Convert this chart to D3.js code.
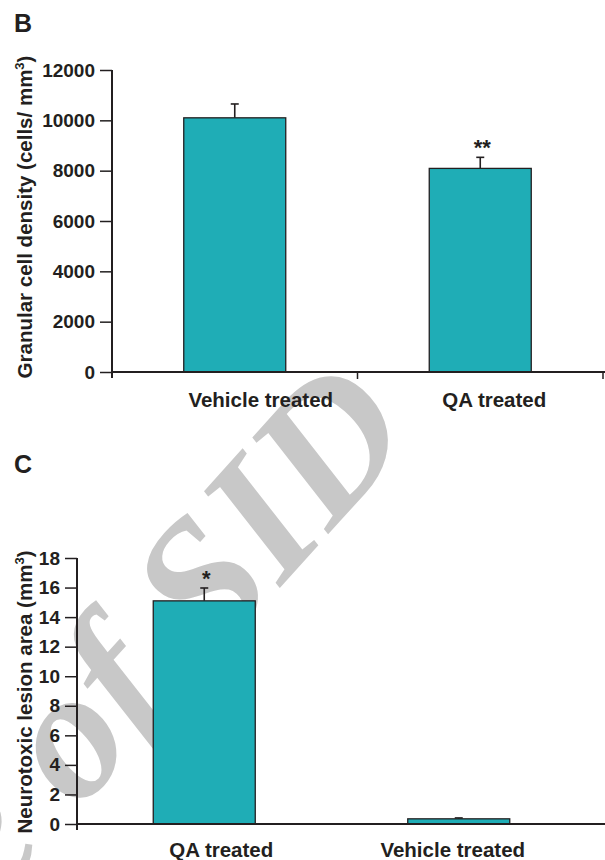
<!DOCTYPE html>
<html>
<head>
<meta charset="utf-8">
<script src="https://cdn.jsdelivr.net/npm/d3@7"></script>
<style>
  body { margin: 0; background: #fff; }
  svg { display: block; }
  text { font-family: "Liberation Sans", Arial, sans-serif; font-weight: bold; fill: #231f20; }
  text.wm { font-family: "Liberation Serif", "DejaVu Serif", serif; font-style: italic; font-weight: bold; font-size: 185px; fill: #c8c8c8; }
</style>
</head>
<body>
<div id="chart"></div>
<script>
// Panel B: granular cell density
const catsB = ["Vehicle treated", "QA treated"];
const valsB = [10100, 8090];
const errsB = [550, 440];
const sigB = ["", "**"];
const ticksB = [0, 2000, 4000, 6000, 8000, 10000, 12000];

// Panel C: neurotoxic lesion area
const catsC = ["QA treated", "Vehicle treated"];
const valsC = [15.1, 0.35];
const errsC = [0.87, 0.06];
const sigC = ["*", ""];
const ticksC = [0, 2, 4, 6, 8, 10, 12, 14, 16, 18];

const W = 605, H = 860;
const ink = "#231f20";
const barFill = "#1fadb6";

const svg = d3.select("#chart").append("svg")
    .attr("width", W)
    .attr("height", H);

// watermark sits behind everything
const wm = svg.append("g")
    .attr("transform", "translate(78,812) rotate(-48)");
wm.append("text")
    .attr("class", "wm")
    .attr("text-anchor", "end")
    .attr("dx", -45)
    .text("Archive");
wm.append("text")
    .attr("class", "wm")
    .attr("text-anchor", "start")
    .text("of SID");

function drawPanel(cfg) {
    const g = svg.append("g");

    const x = d3.scaleBand()
        .domain(cfg.cats)
        .range([cfg.x0, cfg.bandEnd]);
    const y = d3.scaleLinear()
        .domain([0, cfg.yMax])
        .range([cfg.y0, cfg.yTop]);

    const bw = x.bandwidth();
    const barW = 102;
    const cx = d => x(d.c) + bw / 2;

    // panel letter
    g.append("text")
        .attr("x", 14)
        .attr("y", cfg.letterY)
        .style("font-size", "25px")
        .text(cfg.letter);

    // y title
    g.append("text")
        .attr("transform", `translate(${cfg.titleX},${cfg.titleY}) rotate(-90)`)
        .attr("text-anchor", "middle")
        .style("font-size", "20.5px")
        .html(cfg.title);

    // bars with error bars
    const bars = g.selectAll(".bar")
        .data(cfg.cats.map((c, i) => ({ c, v: cfg.vals[i], e: cfg.errs[i], s: cfg.sig[i] })))
        .join("g")
        .attr("class", "bar");

    bars.append("line")
        .attr("x1", cx).attr("x2", cx)
        .attr("y1", d => y(d.v))
        .attr("y2", d => y(d.v + d.e))
        .attr("stroke", ink)
        .attr("stroke-width", 1.6);

    bars.append("line")
        .attr("x1", d => cx(d) - 4)
        .attr("x2", d => cx(d) + 4)
        .attr("y1", d => y(d.v + d.e))
        .attr("y2", d => y(d.v + d.e))
        .attr("stroke", ink)
        .attr("stroke-width", 1.6);

    bars.append("rect")
        .attr("x", d => cx(d) - barW / 2)
        .attr("width", barW)
        .attr("y", d => y(d.v))
        .attr("height", d => y(0) - y(d.v))
        .attr("fill", barFill)
        .attr("stroke", ink)
        .attr("stroke-width", 1.3);

    bars.append("text")
        .attr("x", d => cx(d) + 2)
        .attr("y", d => y(d.v + d.e) - 2)
        .attr("text-anchor", "middle")
        .style("font-size", "22px")
        .text(d => d.s);

    // y axis
    const yAxis = g.append("g")
        .attr("transform", `translate(${cfg.x0},0)`)
        .call(d3.axisLeft(y).tickValues(cfg.ticks).tickFormat(d3.format("d"))
            .tickSize(12).tickSizeOuter(0).tickPadding(5));
    yAxis.select(".domain").remove();
    yAxis.selectAll(".tick line").attr("stroke", ink).attr("stroke-width", 1.5);
    yAxis.selectAll(".tick text")
        .attr("fill", ink)
        .style("font-family", "'Liberation Sans', Arial, sans-serif")
        .style("font-weight", "bold")
        .style("font-size", "19px");

    g.append("line")
        .attr("x1", cfg.x0).attr("x2", cfg.x0)
        .attr("y1", y(cfg.yMax)).attr("y2", cfg.y0 + 6)
        .attr("stroke", ink).attr("stroke-width", 2);

    // x axis
    g.append("line")
        .attr("x1", cfg.x0).attr("x2", W)
        .attr("y1", cfg.y0).attr("y2", cfg.y0)
        .attr("stroke", ink).attr("stroke-width", 2);

    if (cfg.boundaryTicks) {
        g.selectAll(".xtick")
            .data(cfg.cats.slice(1).map(c => x(c)).concat([x.range()[1]]))
            .join("line")
            .attr("x1", d => d).attr("x2", d => d)
            .attr("y1", cfg.y0).attr("y2", cfg.y0 + 7)
            .attr("stroke", ink).attr("stroke-width", 1.5);
    }

    g.selectAll(".xlabel")
        .data(cfg.cats)
        .join("text")
        .attr("x", (d, i) => x(d) + bw / 2 + cfg.labelShift[i])
        .attr("y", cfg.labelY)
        .attr("text-anchor", "middle")
        .style("font-size", "20.5px")
        .text(d => d);
}

drawPanel({
    letter: "B", letterY: 32,
    cats: catsB, vals: valsB, errs: errsB, sig: sigB, ticks: ticksB,
    yMax: 12000, x0: 112, bandEnd: 603, y0: 372, yTop: 70,
    boundaryTicks: true,
    title: "Granular cell density (cells/ mm<tspan dy='-8' style='font-size:13px'>3</tspan><tspan dy='8'>)</tspan>",
    titleX: 32, titleY: 217,
    labelY: 407, labelShift: [26, 14]
});

drawPanel({
    letter: "C", letterY: 473,
    cats: catsC, vals: valsC, errs: errsC, sig: sigC, ticks: ticksC,
    yMax: 18, x0: 77, bandEnd: 586, y0: 824, yTop: 558,
    boundaryTicks: false,
    title: "Neurotoxic lesion area (mm<tspan dy='-8' style='font-size:13px'>3</tspan><tspan dy='8'>)</tspan>",
    titleX: 32, titleY: 692,
    labelY: 857, labelShift: [17, -6]
});
</script>
</body>
</html>
